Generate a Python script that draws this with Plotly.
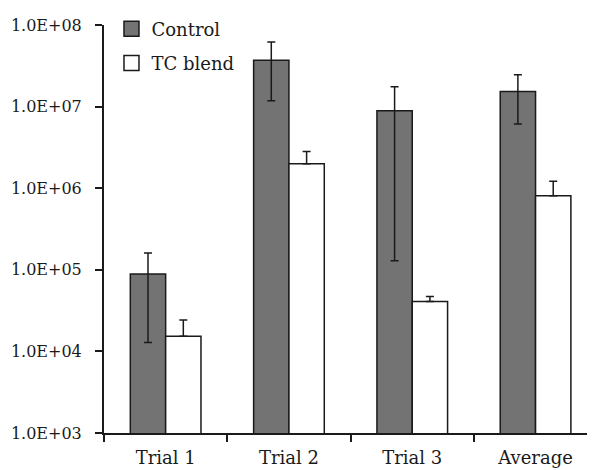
import plotly.graph_objects as go

categories = ["Trial 1", "Trial 2", "Trial 3", "Average"]
series_names = ["Control", "TC blend"]
control_values = [8.9e4, 3.7e7, 8.9e6, 1.53e7]
control_err_upper = [1.61e5, 6.2e7, 1.75e7, 2.46e7]
control_err_lower = [1.29e4, 1.18e7, 1.29e5, 6.1e6]
tc_values = [1.53e4, 2.0e6, 4.1e4, 8.1e5]
tc_err_upper = [2.43e4, 2.82e6, 4.72e4, 1.22e6]
y_tick_values = [1e3, 1e4, 1e5, 1e6, 1e7, 1e8]
y_tick_labels = ["1.0E+03", "1.0E+04", "1.0E+05", "1.0E+06", "1.0E+07", "1.0E+08"]

FONT = "DejaVu Serif"
fig = go.Figure()

fig.add_trace(go.Bar(
    x=categories, y=control_values, name=series_names[0],
    marker=dict(color="#737373", line=dict(color="#1a1a1a", width=1.5)),
    error_y=dict(type="data", symmetric=False,
                 array=[u - v for u, v in zip(control_err_upper, control_values)],
                 arrayminus=[v - l for v, l in zip(control_values, control_err_lower)],
                 color="#1a1a1a", thickness=1.5, width=4),
    showlegend=False,
))
fig.add_trace(go.Bar(
    x=categories, y=tc_values, name=series_names[1],
    marker=dict(color="white", line=dict(color="#1a1a1a", width=1.5)),
    error_y=dict(type="data", symmetric=False,
                 array=[u - v for u, v in zip(tc_err_upper, tc_values)],
                 arrayminus=[0] * len(tc_values),
                 color="#1a1a1a", thickness=1.5, width=4),
    showlegend=False,
))

# legend entries
for name, col, grp in [(series_names[0], "#737373", "a"), (series_names[1], "white", "b")]:
    fig.add_trace(go.Scatter(
        x=[None], y=[None], mode="markers", name=name, legendgroup=grp,
        marker=dict(symbol="square", size=15, color=col, line=dict(color="#1a1a1a", width=1.5)),
    ))

fig.update_layout(
    width=595, height=470,
    margin=dict(l=96, r=0, t=17, b=45, autoexpand=False),
    paper_bgcolor="white", plot_bgcolor="white",
    font=dict(family=FONT, size=16, color="#1a1a1a"),
    barmode="group", bargap=0.427, bargroupgap=0,
    showlegend=True,
    legend=dict(x=0.015, y=1.0 - 2.5 / 470, xref="paper", yref="container",
                xanchor="left", yanchor="top",
                bgcolor="rgba(0,0,0,0)", tracegroupgap=8,
                font=dict(family=FONT, size=18, color="#1a1a1a"),
                itemwidth=30),
)
fig.update_xaxes(
    type="category", range=[-0.5, 3.547],
    showline=True, linecolor="#1a1a1a", linewidth=2,
    ticks="outside", tickson="boundaries", ticklen=7, tickwidth=1.5, tickcolor="#1a1a1a",
    tickfont=dict(family=FONT, size=18, color="#1a1a1a"),
    ticklabelstandoff=7,
    showgrid=False, zeroline=False, automargin=False,
)
fig.update_yaxes(
    type="log", range=[3, 8],
    tickvals=y_tick_values, ticktext=y_tick_labels,
    showline=True, linecolor="#1a1a1a", linewidth=2,
    ticks="outside", ticklen=7, tickwidth=1.5, tickcolor="#1a1a1a",
    ticklabelstandoff=10,
    showgrid=False, zeroline=False, automargin=False,
)

fig.write_html("out.html")
